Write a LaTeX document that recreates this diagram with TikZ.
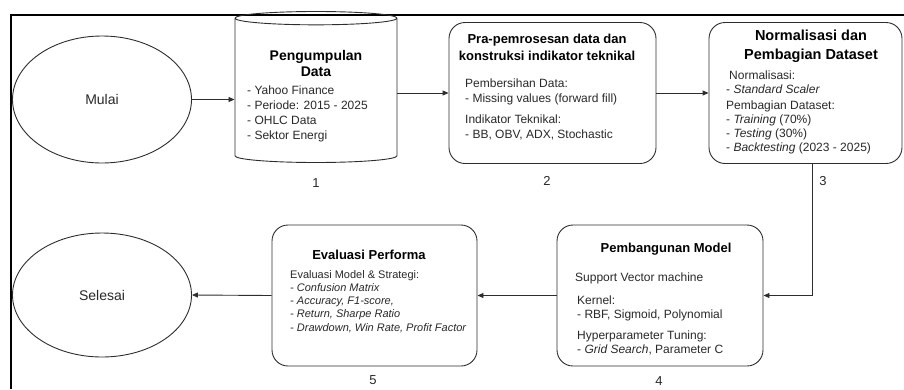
\documentclass[tikz,border=0pt]{standalone}
\usepackage{fontspec}
\setmainfont{Liberation Sans}
\usetikzlibrary{shapes.geometric,arrows.meta}
\definecolor{lineg}{RGB}{45,45,45}
\definecolor{textg}{RGB}{40,40,40}

\begin{document}
\begin{tikzpicture}[x=1pt,y=-1pt,
  flow/.style={draw=lineg, line width=0.9pt},
  link/.style={draw=lineg, line width=0.9pt, -{Triangle[length=6pt,width=5pt]}},
  stepbox/.style={flow, rounded corners=16pt, minimum width=#1, minimum height=141pt},
  endpoint/.style={flow, ellipse, minimum width=179pt, font={\fontsize{14}{16}\selectfont}, text=textg},
  boxtitle/.style 2 args={font={\fontsize{#1}{#2}\selectfont\bfseries}, align=center, anchor=base, inner sep=0pt},
  boxtext/.style={font={\fontsize{12}{15}\selectfont}, align=left, anchor=base west, inner sep=0pt, text=textg},
  steplabel/.style={font={\fontsize{13}{15}\selectfont}, anchor=base, inner sep=0pt, text=textg}]
  \useasboundingbox (0,0) rectangle (904,389);
  % frame
  \draw[line width=2pt] (11,389) -- (11,15) -- (904,15);
  % start / end
  \node[endpoint, minimum height=127pt] (start) at (102,99.5) {Mulai};
  \node[endpoint, minimum height=124pt] (finish) at (102,295) {Selesai};
  % step 1
  \node[flow, cylinder, shape border rotate=90, aspect=2, minimum width=162pt, minimum height=151pt] (collect) at (316,91.5) {};
  \node[boxtitle={14}{16}] (collect-title) at (316,76) {Pengumpulan\\Data};
  \node[boxtext] (collect-text) at (247,139) {- Yahoo Finance\\- Periode: 2015 - 2025\\- OHLC Data\\- Sektor Energi};
  \node[steplabel] (num1) at (316,187) {1};
  % step 2
  \node[stepbox=207pt] (prep) at (552.5,93) {};
  \node[boxtitle={13}{17}] (prep-title) at (547,60) {Pra-pemrosesan data dan\\konstruksi indikator teknikal};
  \node[boxtext] (prep-text) at (465,138) {Pembersihan Data:\\- Missing values (forward fill)\\[6pt]Indikator Teknikal:\\- BB, OBV, ADX, Stochastic};
  \node[steplabel] (num2) at (547,185) {2};
  % step 3
  \node[stepbox=193pt] (norm) at (805.5,93) {};
  \node[boxtitle={14.5}{19}] (norm-title) at (811,59) {Normalisasi dan\\Pembagian Dataset};
  \node[boxtext, font={\fontsize{12}{14}\selectfont}] (norm-text) at (726,151) {\hspace{3pt}Normalisasi:\\ - \textit{Standard Scaler}\\[2pt]Pembagian Dataset:\\- \textit{Training} (70\%)\\- \textit{Testing} (30\%)\\- \textit{Backtesting} (2023 - 2025)};
  \node[steplabel] (num3) at (823,185) {3};
  % step 4
  \node[stepbox=206pt] (model) at (660,295.5) {};
  \node[boxtitle={13}{15}] (model-title) at (666,252.5) {Pembangunan Model};
  \node[boxtext, font={\fontsize{12}{13.5}\selectfont}] (model-text) at (575,353) {Support Vector machine\\[10pt]\hspace{2pt}Kernel:\\\hspace{2pt}- RBF, Sigmoid, Polynomial\\[8pt]\hspace{2pt}Hyperparameter Tuning:\\\hspace{2pt}- \textit{Grid Search}, Parameter C};
  \node[steplabel] (num4) at (659,385) {4};
  % step 5
  \node[stepbox=205pt] (eval) at (374.5,295.5) {};
  \node[boxtitle={13}{15}] (eval-title) at (369,259) {Evaluasi Performa};
  \node[boxtext, font={\fontsize{11}{13.25}\selectfont}] (eval-text) at (290,331) {Evaluasi Model \& Strategi:\\\textit{- Confusion Matrix}\\\textit{- Accuracy, F1-score,}\\\textit{- Return, Sharpe Ratio}\\\textit{- Drawdown, Win Rate, Profit Factor}};
  \node[steplabel] (num5) at (373,384) {5};
  % connectors
  \draw[link] (start.east) -- (start.east -| collect.west);
  \draw[link] (collect.east |- prep.west) -- (prep.west);
  \draw[link] (prep.east) -- (norm.west);
  \draw[link] ([xshift=6.5pt]norm.south) |- (model.east);
  \draw[link] (model.west) -- (eval.east);
  \draw[link] (eval.west) -- (finish.east);
\end{tikzpicture}
\end{document}
